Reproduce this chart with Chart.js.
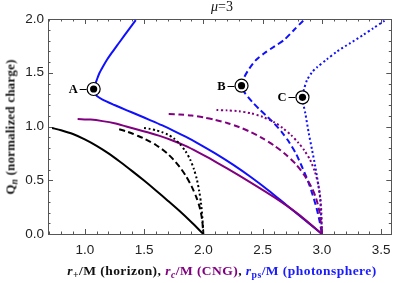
<!DOCTYPE html>
<html>
<head>
<meta charset="utf-8">
<script src="https://cdn.jsdelivr.net/npm/chart.js@4.4.0/dist/chart.umd.min.js"></script>
<style>
	body { margin: 0; background: #fff; }
	#wrap { position: relative; width: 399px; height: 283px; overflow: hidden; }
	#wrap canvas { position: absolute; left: 0; top: 0; }
	.lbl { position: absolute; font-family: 'Liberation Serif', 'DejaVu Serif', serif; white-space: nowrap; line-height: 1; }
	.lbl sub { font-size: 72%; vertical-align: -0.3em; line-height: 0; }
	#title { left: 222px; top: 0px; transform: translateX(-50%); font-size: 14px; color: #111; }
	#ylab { left: 10px; top: 127px; transform: translate(-50%, -50%) rotate(-90deg); font-size: 13px; font-weight: bold; color: #111; letter-spacing: 0.2px; }
	#xlab { left: 222px; top: 264px; transform: translateX(-50%); font-size: 13.5px; font-weight: bold; color: #111; letter-spacing: 0.45px; }
	.pur { color: #800080; }
	.blu { color: #1a1aff; }
</style>
</head>
<body>
<div id="wrap">
	<canvas id="chart" width="399" height="283"></canvas>
	<div class="lbl" id="title"><i>μ</i>=3</div>
	<div class="lbl" id="ylab">Q<sub><i>n</i></sub> (normalized charge)</div>
	<div class="lbl" id="xlab"><i>r</i><sub>+</sub>/M (horizon), <span class="pur"><i>r</i><sub><i>c</i></sub>/M (CNG)</span>, <span class="blu"><i>r</i><sub>ps</sub>/M (photonsphere)</span></div>
</div>
<script>
// axis ticks
const xTicks = [1.0, 1.5, 2.0, 2.5, 3.0, 3.5];
const yTicks = [0.0, 0.5, 1.0, 1.5, 2.0];

// horizon r+/M
const horizonSolidR = [0.725, 0.8, 0.9, 1.0, 1.1, 1.2, 1.3, 1.4, 1.5, 1.6, 1.7, 1.8, 1.9, 2.0];
const horizonSolidQ = [0.986, 0.965, 0.93, 0.88, 0.82, 0.75, 0.67, 0.585, 0.497, 0.405, 0.31, 0.213, 0.109, 0];
const horizonDashR = [1.29, 1.35, 1.4, 1.45, 1.5, 1.55, 1.6, 1.65, 1.7, 1.75, 1.8, 1.85, 1.9, 1.94, 1.97, 1.99, 2.0];
const horizonDashQ = [0.975, 0.955, 0.935, 0.912, 0.888, 0.86, 0.828, 0.79, 0.745, 0.69, 0.625, 0.545, 0.445, 0.345, 0.245, 0.13, 0];
const horizonDotR = [1.5, 1.55, 1.6, 1.65, 1.7, 1.75, 1.8, 1.85, 1.89, 1.92, 1.945, 1.965, 1.98, 1.992, 2.0];
const horizonDotQ = [0.985, 0.978, 0.965, 0.948, 0.925, 0.89, 0.84, 0.77, 0.69, 0.605, 0.51, 0.4, 0.29, 0.15, 0];

// CNG rc/M
const cngSolidR = [0.94, 1.05, 1.15, 1.25, 1.35, 1.458, 1.55, 1.625, 1.74, 1.85, 1.95, 2.05, 2.2, 2.4, 2.6, 2.8, 3.0];
const cngSolidQ = [1.07, 1.064, 1.05, 1.03, 1.0, 0.967, 0.94, 0.915, 0.87, 0.82, 0.765, 0.705, 0.61, 0.478, 0.34, 0.185, 0];
const cngDashR = [1.708, 1.8, 1.9, 2.0, 2.1, 2.2, 2.3, 2.4, 2.5, 2.6, 2.7, 2.78, 2.85, 2.91, 2.95, 2.98, 3.0];
const cngDashQ = [1.116, 1.112, 1.102, 1.085, 1.062, 1.033, 0.995, 0.948, 0.89, 0.82, 0.735, 0.65, 0.55, 0.44, 0.335, 0.2, 0];
const cngDotR = [2.111, 2.2, 2.3, 2.4, 2.5, 2.6, 2.67, 2.74, 2.8, 2.85, 2.9, 2.94, 2.965, 2.985, 2.995, 3.0];
const cngDotQ = [1.153, 1.15, 1.142, 1.123, 1.09, 1.038, 0.985, 0.92, 0.85, 0.78, 0.69, 0.58, 0.48, 0.35, 0.2, 0];

// photonsphere rps/M
const photonSolidR = [1.43, 1.38, 1.33, 1.28, 1.23, 1.19, 1.155, 1.125, 1.1, 1.085, 1.075, 1.08, 1.1, 1.15, 1.25, 1.35, 1.45, 1.55, 1.65, 1.75, 1.85, 1.95, 2.1, 2.25, 2.4, 2.55, 2.7, 2.85, 3.0];
const photonSolidQ = [1.99, 1.915, 1.84, 1.765, 1.69, 1.625, 1.56, 1.5, 1.43, 1.385, 1.349, 1.32, 1.285, 1.25, 1.2, 1.153, 1.107, 1.06, 1.012, 0.96, 0.905, 0.846, 0.75, 0.645, 0.53, 0.405, 0.27, 0.135, 0];
const photonDashR = [2.842, 2.764, 2.681, 2.597, 2.514, 2.444, 2.389, 2.347, 2.322, 2.345, 2.375, 2.42, 2.473, 2.54, 2.6, 2.66, 2.72, 2.78, 2.83, 2.88, 2.92, 2.955, 2.98, 3.0];
const photonDashQ = [1.984, 1.898, 1.805, 1.743, 1.681, 1.619, 1.541, 1.463, 1.38, 1.32, 1.277, 1.22, 1.16, 1.09, 1.025, 0.95, 0.86, 0.75, 0.63, 0.5, 0.37, 0.24, 0.12, 0];
const photonDotR = [3.528, 3.431, 3.347, 3.236, 3.125, 3.042, 2.958, 2.917, 2.875, 2.847, 2.836, 2.845, 2.86, 2.889, 2.917, 2.944, 2.972, 2.986, 3.0];
const photonDotQ = [1.984, 1.913, 1.851, 1.774, 1.696, 1.625, 1.55, 1.505, 1.433, 1.34, 1.271, 1.2, 1.123, 0.937, 0.781, 0.626, 0.44, 0.316, 0];

// marked points
const markNames = ['A', 'B', 'C'];
const markR = [1.075, 2.322, 2.836];
const markQ = [1.349, 1.38, 1.271];

let QnChart = {};

{
	QnChart.pairs = function(xs, ys)
	{
		return xs.map((x, i) => ({ x: x, y: ys[i] }));
	};

	QnChart.line = function(xs, ys, color, dash)
	{
		return {
			data: QnChart.pairs(xs, ys),
			showLine: true,
			borderColor: color,
			borderWidth: 2,
			borderDash: dash,
			borderCapStyle: 'butt',
			pointRadius: 0,
			tension: 0.25,
			fill: false
		};
	};

	const BLACK = '#000000';
	const PURPLE = '#800080';
	const BLUE = '#1010ff';
	const DASH = [6, 3.5];
	const DOT = [2, 2.5];

	// box frame with inward ticks, like the original
	const framePlugin = {
		id: 'frame',
		beforeDatasetsDraw: function(chart)
		{
			let ctx = chart.ctx;
			let a = chart.chartArea;
			let xs = chart.scales.x;
			let ys = chart.scales.y;

			ctx.save();
			ctx.strokeStyle = '#555';
			ctx.lineWidth = 1;
			ctx.strokeRect(Math.round(a.left) + 0.5, Math.round(a.top) + 0.5, Math.round(a.right - a.left), Math.round(a.bottom - a.top));

			ctx.beginPath();
			for (let i = 7; i <= 35; i++)
			{
				let px = Math.round(xs.getPixelForValue(i / 10)) + 0.5;
				let len = (i % 5 === 0) ? 5 : 2.5;
				ctx.moveTo(px, a.bottom);
				ctx.lineTo(px, a.bottom - len);
				ctx.moveTo(px, a.top);
				ctx.lineTo(px, a.top + len);
			}
			for (let i = 0; i <= 20; i++)
			{
				let py = Math.round(ys.getPixelForValue(i / 10)) + 0.5;
				let len = (i % 5 === 0) ? 5 : 2.5;
				ctx.moveTo(a.left, py);
				ctx.lineTo(a.left + len, py);
				ctx.moveTo(a.right, py);
				ctx.lineTo(a.right - len, py);
			}
			ctx.stroke();
			ctx.restore();
		},
		afterDatasetsDraw: function(chart)
		{
			let ctx = chart.ctx;
			let xs = chart.scales.x;
			let ys = chart.scales.y;

			ctx.save();
			ctx.strokeStyle = '#000';
			ctx.fillStyle = '#000';
			ctx.lineWidth = 1;
			ctx.font = 'bold 12.5px "Liberation Serif"';
			ctx.textAlign = 'right';
			ctx.textBaseline = 'middle';
			markNames.forEach((name, i) => {
				let px = xs.getPixelForValue(markR[i]);
				let py = Math.round(ys.getPixelForValue(markQ[i])) + 0.5;
				ctx.beginPath();
				ctx.moveTo(px - 14, py);
				ctx.lineTo(px - 7, py);
				ctx.stroke();
				ctx.fillText(name, px - 16, py + 0.5);
			});
			ctx.restore();
		}
	};

	let datasets = [
		QnChart.line(horizonSolidR, horizonSolidQ, BLACK, []),
		QnChart.line(horizonDashR, horizonDashQ, BLACK, DASH),
		QnChart.line(horizonDotR, horizonDotQ, BLACK, DOT),
		QnChart.line(cngSolidR, cngSolidQ, PURPLE, []),
		QnChart.line(cngDashR, cngDashQ, PURPLE, DASH),
		QnChart.line(cngDotR, cngDotQ, PURPLE, DOT),
		QnChart.line(photonSolidR, photonSolidQ, BLUE, []),
		QnChart.line(photonDashR, photonDashQ, BLUE, DASH),
		QnChart.line(photonDotR, photonDotQ, BLUE, DOT),
		{
			data: QnChart.pairs(markR, markQ),
			pointRadius: 6.5,
			pointBackgroundColor: '#fff',
			pointBorderColor: '#000',
			pointBorderWidth: 1.2,
			order: -1
		},
		{
			data: QnChart.pairs(markR, markQ),
			pointRadius: 3.6,
			pointBackgroundColor: '#000',
			pointBorderWidth: 0,
			order: -2
		}
	];

	const tickFont = { family: '"Liberation Sans", Arial, sans-serif', size: 13.5 };

	QnChart._chart = new Chart(document.getElementById('chart'), {
		type: 'scatter',
		data: { datasets: datasets },
		plugins: [framePlugin],
		options: {
			responsive: false,
			animation: false,
			events: [],
			layout: { padding: { left: 0, top: 19, right: 4, bottom: 0 } },
			plugins: {
				legend: { display: false },
				tooltip: { enabled: false }
			},
			scales: {
				x: {
					type: 'linear',
					min: 0.69,
					max: 3.585,
					afterFit: (s) => { s.height = 49; },
					afterBuildTicks: (s) => { s.ticks = xTicks.map(v => ({ value: v })); },
					border: { display: false },
					grid: { display: false, drawTicks: false },
					ticks: {
						padding: 8,
						color: '#222',
						font: tickFont,
						callback: (v) => v.toFixed(1)
					}
				},
				y: {
					type: 'linear',
					min: 0,
					max: 2,
					afterFit: (s) => { s.width = 48; },
					afterBuildTicks: (s) => { s.ticks = yTicks.map(v => ({ value: v })); },
					border: { display: false },
					grid: { display: false, drawTicks: false },
					ticks: {
						padding: 4,
						color: '#222',
						font: tickFont,
						callback: (v) => v.toFixed(1)
					}
				}
			}
		}
	});
}
</script>
</body>
</html>
